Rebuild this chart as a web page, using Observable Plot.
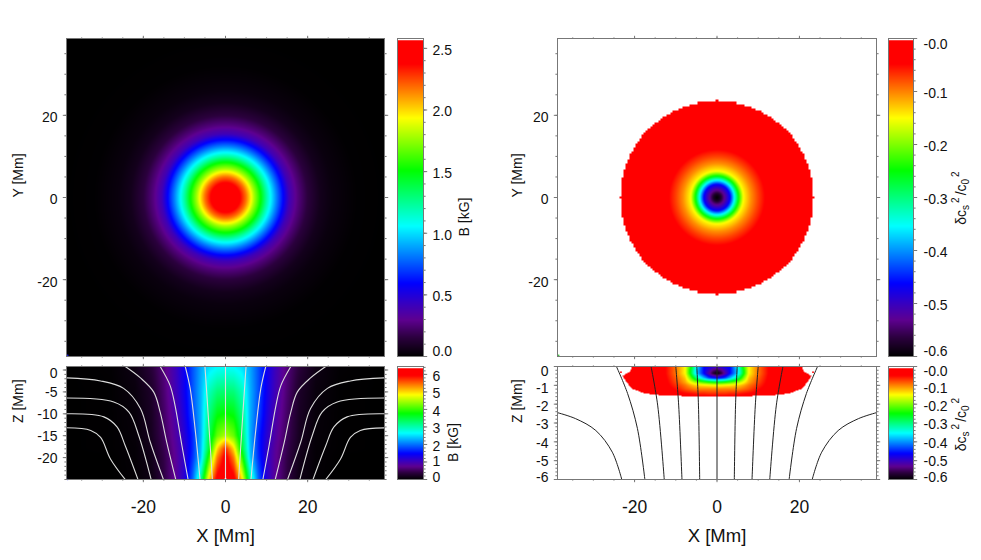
<!DOCTYPE html>
<html><head><meta charset="utf-8">
<script src="https://cdn.jsdelivr.net/npm/d3@7"></script>
<script src="https://cdn.jsdelivr.net/npm/@observablehq/plot@0.6"></script>
<style>
html,body{margin:0;padding:0;background:#fff;overflow:hidden}
#page{position:relative;width:981px;height:560px}
#page>div{position:absolute}
svg{display:block;overflow:visible;background:transparent!important}
</style></head><body><div id="page"></div>
<script>
// colour table of the colour bars (fraction of the bar, colour)
const barFractions=[0,.06,.115,.17,.23,.41,.585,.75,.92,1];
const barColors=["#000000","#2c003f","#5e0090","#3400c4","#0000ff","#00ffff","#00ff00","#ffff00","#ff0000","#ff0000"];

// Panel A: field strength against radius
const radiusB=[0,2,3.5,5,6.2,7,8.6,10,11,12.4,14,15.5,17.5,20,23,26,30,32,40,60];
const valueB=[2.58,2.52,2.39,2.18,1.95,1.78,1.5,1.22,1.05,.83,.6,.4,.27,.15,.07,.035,.015,.005,0,0];

// Panel B: field strength table (depth rows, |x| columns)
const bColsX=[0,2,4,6,8,10,12,15,18,22,28,38.7];
const bRowsZ=[.8,-5,-10,-15,-18,-20,-25];
const bRow0=[2.65,2.62,2.5,2.25,1.85,1.4,1.05,.65,.36,.12,.02,0];
const bRow5=[3.3,3.25,2.95,2.3,1.85,1.38,1.02,.6,.25,.08,.01,0];
const bRow10=[3.8,3.7,3.2,2.3,1.8,1.3,.95,.55,.22,.06,.01,0];
const bRow15=[4.5,4.2,3.4,2.3,1.65,1.2,.88,.5,.2,.05,.01,0];
const bRow18=[5.8,5.0,3.6,2.35,1.65,1.15,.82,.45,.17,.04,.01,0];
const bRow20=[6.1,5.4,4.0,2.4,1.7,1.15,.8,.42,.15,.04,0,0];
const bRow25=[6.4,6.1,5.0,3.1,1.95,1.2,.8,.4,.12,.03,0,0];

// Panel C: sound speed change against radius, drawn out to discRadius
const radiusC=[0,.8,1.8,3.2,4.2,5.2,6.4,8.25,9.9,11.5,14,24];
const valueC=[-.6,-.58,-.53,-.46,-.354,-.25,-.15,-.105,-.075,-.05,-.01,0];
const discRadius=23.5;
const discCell=.5;

// Panel D: sound speed change table and outline of the drawn region
const cColsX=[0,1,2,3.2,4.4,5.3,6.5,7.7,9.7,12.1,14,25];
const cRowsZ=[0,-.2,-.37,-.61,-.84,-1,-1.2,-1.42,-1.6];
const cRow0=[-.49,-.48,-.47,-.46,-.39,-.33,-.23,-.15,-.1,-.055,-.02,0];
const cRow1=[-.56,-.54,-.5,-.46,-.4,-.35,-.25,-.15,-.1,-.055,-.02,0];
const cRow2=[-.6,-.57,-.52,-.46,-.4,-.354,-.25,-.15,-.1,-.055,-.02,0];
const cRow3=[-.46,-.45,-.43,-.38,-.33,-.28,-.2,-.13,-.09,-.05,-.02,0];
const cRow4=[-.25,-.245,-.235,-.22,-.2,-.18,-.15,-.115,-.08,-.045,-.02,0];
const cRow5=[-.15,-.15,-.145,-.14,-.135,-.13,-.115,-.095,-.07,-.04,-.015,0];
const cRow6=[-.1,-.1,-.1,-.1,-.1,-.1,-.09,-.08,-.055,-.035,-.01,0];
const cRow7=[-.07,-.07,-.07,-.065,-.065,-.06,-.055,-.05,-.04,-.02,-.01,0];
const cRow8=[-.04,-.04,-.04,-.04,-.04,-.035,-.03,-.03,-.02,-.01,0,0];
const outlineZ=[0,-.25,-.5,-.8,-1.16,-1.43,-1.55,-1.6];
const outlineX=[20.7,21,22.9,22,20.8,17.6,12.7,0];

// Field lines, left half (x, z) in Mm; mirrored for the right half
const whiteLines=[
 [[-5,.8],[-4.2,-10.4],[-3.2,-25]],
 [[-9.8,.8],[-8.6,-4.2],[-7.4,-13.4],[-6.2,-25]],
 [[-15.9,.8],[-13.5,-3.5],[-12.3,-8],[-10.6,-17.3],[-9.1,-25]],
 [[-24.4,.8],[-20.7,-1.8],[-17.5,-5],[-15.9,-9.6],[-14.3,-16.5],[-12.1,-25]],
 [[-38.7,-1.8],[-30.4,-2.5],[-24.8,-4.2],[-20.7,-8.8],[-18.3,-16.5],[-15.1,-25]],
 [[-38.7,-6.4],[-27.2,-7.3],[-23.5,-9.6],[-21.1,-15],[-18.1,-25]],
 [[-38.7,-10],[-29.6,-10.7],[-26.4,-13],[-24.4,-17.3],[-21.3,-25]],
 [[-38.7,-13.2],[-32.8,-13.8],[-30.4,-15.4],[-28,-20.3],[-24.4,-25]]
];
const blackLines=[
 [[-4.9,0],[-4.5,-2.05],[-4.2,-6]],
 [[-10,0],[-9.3,-2.05],[-8.5,-6]],
 [[-16,0],[-14.4,-2.05],[-12.8,-6]],
 [[-24.4,0],[-21.7,-1.43],[-19.3,-3.3],[-17.5,-6]],
 [[-38.7,-2.45],[-34.3,-2.77],[-29.4,-3.4],[-25.4,-4.55],[-23.1,-6]]
];
const xTicks=[-20,0,20];
const yTicksTop=[-20,0,20];
const zTicksB=[-5,-10,-15,-20];
const zTicksD=[-2,-3,-4];

const FONT="'Liberation Sans',Arial,sans-serif";
const GRAY="#777";
const page=document.getElementById("page");
const ramp=(lo,hi)=>({type:"linear",domain:barFractions.map(f=>lo+f*(hi-lo)),range:barColors,clamp:true});
const line1=(xs,ys)=>d3.scaleLinear().domain(xs).range(ys).clamp(true);
function table(rowsZ,colsX,rows){
  const scales=rows.map(r=>line1(colsX,r));
  return (x,z)=>line1(rowsZ,scales.map(s=>s(Math.abs(x))))(z);
}
function place(svg,left,top){const d=document.createElement("div");d.style.left=left+"px";d.style.top=top+"px";d.appendChild(svg);page.appendChild(d);}

function frameTicks(xMajor,xMinor,yMajor,yMinor){
  const t=[];
  for(const a of ["top","bottom"]){
    t.push(Plot.axisX(xMinor,{anchor:a,tickSize:1.6,stroke:GRAY,text:null,tickFormat:null,label:null}));
    t.push(Plot.axisX(xMajor,{anchor:a,tickSize:3.2,stroke:GRAY,text:null,tickFormat:null,label:null}));
  }
  for(const a of ["left","right"]){
    t.push(Plot.axisY(yMinor,{anchor:a,tickSize:1.6,stroke:GRAY,text:null,tickFormat:null,label:null}));
    t.push(Plot.axisY(yMajor,{anchor:a,tickSize:3.2,stroke:GRAY,text:null,tickFormat:null,label:null}));
  }
  return t;
}
const fmt=d=>String(d);
const leftLabels=(ticks,dy)=>Plot.axisY(ticks,{anchor:"left",tickSize:0,tickPadding:9,fontSize:14,tickFormat:fmt,label:null,fill:"#111",dy});

function panel(g,marks,extra){
  const ml=g.ml,mr=10,mt=6,mb=g.mb;
  const svg=Plot.plot({
    width:g.x1-g.x0+ml+mr,height:g.y1-g.y0+mt+mb,
    marginLeft:ml,marginRight:mr,marginTop:mt,marginBottom:mb,
    style:{fontFamily:FONT,fontSize:"14px",color:"#111",background:"transparent"},
    x:{domain:g.xd,axis:null},y:{domain:g.yd,axis:null},
    color:g.color,
    marks
  });
  place(svg,g.x0-ml,g.y0-mt);
  if(extra) extra(svg);
  return svg;
}
function bar(g,lo,hi,major,minor,plain,shifted,title,titleDx,rich){
  const fmtBar=g.fmt;
  panel({x0:g.x0,x1:g.x1,y0:g.y0,y1:g.y1,ml:4,mb:10,xd:[0,1],yd:[lo,hi],color:ramp(lo,hi)},[
    Plot.raster({x1:0,x2:1,y1:lo,y2:hi,fill:(x,y)=>y,pixelSize:1}),
    Plot.ruleY([hi],{stroke:"#fff",strokeWidth:1.5,dy:1}),
    Plot.axisY(minor,{anchor:"right",tickSize:1.6,stroke:GRAY,text:null,tickFormat:null,label:null}),
    Plot.axisY(major,{anchor:"right",tickSize:3.2,stroke:GRAY,text:null,tickFormat:null,label:null}),
    Plot.axisY(plain,{anchor:"right",tickSize:0,tickPadding:g.pad,fontSize:14,tickFormat:fmtBar,label:null,fill:"#111",dy:2}),
    ...shifted.map(([v,dy])=>Plot.axisY([v],{anchor:"right",tickSize:0,tickPadding:g.pad,fontSize:14,tickFormat:fmtBar,label:null,fill:"#111",dy})),
    ...(title?[Plot.text([title],{frameAnchor:"right",dx:titleDx,rotate:-90,fontSize:14,fill:"#111"})]:[]),
    Plot.frame({stroke:GRAY})
  ],rich?svg=>{
    const mid=(g.y1-g.y0)/2+6+g.mid;
    const tx=g.x1-g.x0+4+53;
    const t=d3.select(svg).append("text").attr("transform",`translate(${tx},${mid}) rotate(-90)`)
      .attr("text-anchor","middle").attr("font-size",14).attr("fill","#111").attr("font-family",FONT);
    t.append("tspan").text("δc");
    t.append("tspan").attr("font-size",10).attr("dy",3).text("s");
    t.append("tspan").attr("font-size",10).attr("dy",-10).attr("dx",2).text("2");
    t.append("tspan").attr("dy",7).attr("dx",2).text("/c");
    t.append("tspan").attr("font-size",10).attr("dy",3).text("0");
    t.append("tspan").attr("font-size",10).attr("dy",-10).attr("dx",2).text("2");
  }:null);
}
const yTitle=(s,dx)=>Plot.text([s],{frameAnchor:"left",dx,rotate:-90,fontSize:14,fill:"#111"});
const xBottom=(s)=>[
  Plot.axisX(xTicks,{anchor:"bottom",tickSize:0,tickPadding:21.5,fontSize:17.5,tickFormat:fmt,label:null,fill:"#111"}),
  Plot.text([s],{frameAnchor:"bottom",dy:62,fontSize:18.5,fill:"#111"})
];
const lineMarks=(sets,stroke,w)=>sets.flatMap(l=>[
  Plot.line(l,{x:d=>d[0],y:d=>d[1],curve:"catmull-rom",stroke,strokeWidth:w,clip:true}),
  Plot.line(l,{x:d=>-d[0],y:d=>d[1],curve:"catmull-rom",stroke,strokeWidth:w,clip:true})
]);

const H=38.7, xMinor=d3.range(-35,36,5);
const gx=[-H,H];

// A
const profB=line1(radiusB,valueB);
panel({x0:66,x1:384,y0:38,y1:356,ml:66,mb:10,xd:gx,yd:gx,color:ramp(0,2.58)},[
  Plot.raster({x1:-H,x2:H,y1:-H,y2:H,pixelSize:1,fill:(x,y)=>profB(Math.hypot(x,y))}),
  Plot.dot([[-38.4,-38.4]],{x:d=>d[0],y:d=>d[1],r:.8,fill:"#2020ff"}),
  ...frameTicks(xTicks,xMinor,yTicksTop,xMinor),
  leftLabels(yTicksTop,2.5),
  yTitle("Y [Mm]",-48),
  Plot.frame({stroke:GRAY})
]);
bar({x0:397,x1:423,y0:38,y1:356,pad:9,fmt:d=>d.toFixed(1)},0,2.58,[0,.5,1,1.5,2,2.5],d3.range(0,2.55,.1),[.5,1,1.5,2,2.5],[[0,-5]],"B [kG]",41);

// B
const fieldB=table(bRowsZ,bColsX,[bRow0,bRow5,bRow10,bRow15,bRow18,bRow20,bRow25]);
const bz=[-25,.8];
panel({x0:66,x1:384,y0:366,y1:479,ml:66,mb:70,xd:gx,yd:bz,color:ramp(0,6.45)},[
  Plot.raster({x1:-H,x2:H,y1:bz[0],y2:bz[1],pixelSize:1,fill:(x,z)=>fieldB(x,z)}),
  ...lineMarks(whiteLines,"#dcdcdc",1.1),
  Plot.ruleX([0],{y1:-25,y2:.8,stroke:"#dcdcdc",strokeWidth:1.1}),
  Plot.dot([[0,-25]],{x:d=>d[0],y:d=>d[1],r:1.2,fill:"#fff"}),
  Plot.dot([[-38.4,-25]],{x:d=>d[0],y:d=>d[1],r:.8,fill:"#2020ff"}),
  ...frameTicks(xTicks,xMinor,[0,...zTicksB],d3.range(-25,1,1)),
  leftLabels(zTicksB,1),
  leftLabels([0],3.5),
  yTitle("Z [Mm]",-48),
  ...xBottom("X [Mm]"),
  Plot.frame({stroke:GRAY})
]);
bar({x0:397,x1:423,y0:366,y1:479,pad:9,fmt:d=>String(d)},0,6.45,[0,1,2,3,4,5,6],d3.range(0,6.41,.2),[2,3,4,5,6],[[1,-.5],[0,-1.5]],"B [kG]",30);

// C
const profC=line1(radiusC,valueC);
const snap=v=>Math.round(v/discCell)*discCell;
panel({x0:557,x1:876,y0:38,y1:356,ml:50,mb:10,xd:gx,yd:gx,color:ramp(-.6,0)},[
  Plot.raster({x1:-H,x2:H,y1:-H,y2:H,pixelSize:1,fill:(x,y)=>Math.hypot(snap(x),snap(y))>discRadius?NaN:profC(Math.hypot(x,y))}),
  Plot.dot([[-38.4,-38.4]],{x:d=>d[0],y:d=>d[1],r:.8,fill:"#20c020"}),
  ...frameTicks(xTicks,xMinor,yTicksTop,xMinor),
  leftLabels(yTicksTop,2.5),
  yTitle("Y [Mm]",-40),
  Plot.frame({stroke:GRAY})
]);
const fmtC=d=>d===0?"-0.0":d.toFixed(1);
const cMajor=[0,-.1,-.2,-.3,-.4,-.5,-.6], cMinor=d3.range(-.6,.001,.02), cPlain=[-.2,-.3,-.4];
bar({x0:888,x1:913,y0:38,y1:356,pad:10,fmt:fmtC,mid:1},-.6,0,cMajor,cMinor,[-.1,-.5,...cPlain],[[0,6.5],[-.6,-5]],null,0,true);

// D
const fieldD=table(cRowsZ,cColsX,[cRow0,cRow1,cRow2,cRow3,cRow4,cRow5,cRow6,cRow7,cRow8]);
const edgeD=line1(outlineZ,outlineX);
const dz=[-6,0];
panel({x0:557,x1:876,y0:366,y1:479,ml:50,mb:70,xd:gx,yd:dz,color:ramp(-.6,0)},[
  Plot.raster({x1:-H,x2:H,y1:-6,y2:0,pixelSize:1,fill:(x,z)=>(Math.abs(x)>edgeD(z)||z<-1.6)?NaN:fieldD(x,z)}),
  Plot.dot([[-23.3,-.3],[23.3,-.3]],{x:d=>d[0],y:d=>d[1],r:.9,fill:"#ff0000"}),
  ...lineMarks(blackLines,"#222",1),
  Plot.ruleX([0],{y1:-6,y2:0,stroke:"#222",strokeWidth:1}),
  ...frameTicks(xTicks,xMinor,[0,-1,...zTicksD,-5,-6],d3.range(-6,.01,.2)),
  leftLabels(zTicksD,2),
  leftLabels([-1],3),
  leftLabels([0],5),
  leftLabels([-5],.5),
  leftLabels([-6],-1.5),
  yTitle("Z [Mm]",-40),
  ...xBottom("X [Mm]"),
  Plot.frame({stroke:GRAY})
]);
bar({x0:888,x1:913,y0:366,y1:479,pad:10,fmt:fmtC,mid:2},-.6,0,cMajor,cMinor,cPlain,[[-.1,3],[0,5],[-.5,.5],[-.6,-1.5]],null,0,true);
</script></body></html>
